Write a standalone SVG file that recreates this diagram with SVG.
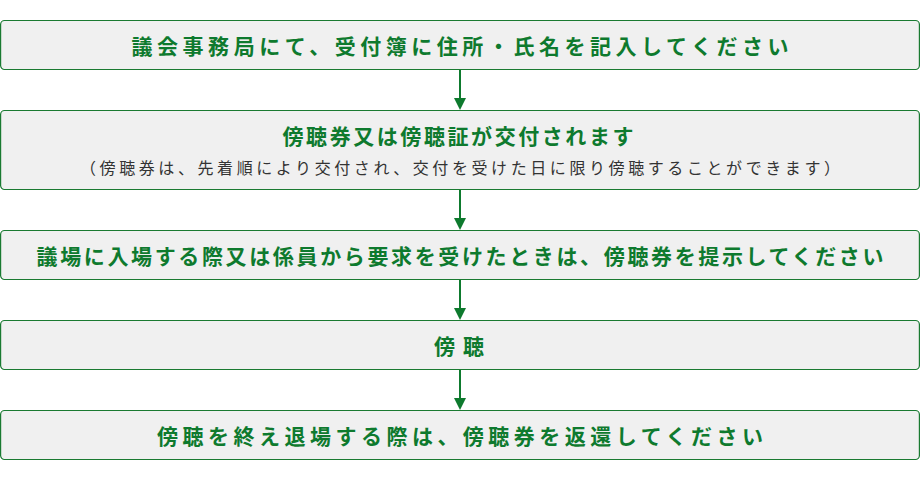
<svg xmlns="http://www.w3.org/2000/svg" width="920" height="480" viewBox="0 0 920 480">
<style>
.box{fill:#f0f0f0;stroke:#1a7a31;stroke-width:1.2}
.t{font-family:"Noto Sans CJK JP","Noto Sans",sans-serif;font-size:21px;font-weight:bold;fill:#0e7a2e;text-anchor:middle;dominant-baseline:central}
.s{font-family:"Noto Sans CJK JP","Noto Sans",sans-serif;font-size:16px;fill:#333;text-anchor:middle;dominant-baseline:central}
.ln{stroke:#0e7a2e;stroke-width:2}
.hd{fill:#0e7a2e}
</style>
<rect width="920" height="480" fill="#fff"/>
<g id="step1">
<rect class="box" x="0.6" y="20.5" width="918.8" height="49" rx="4"/>
<text class="t" x="460" y="44.5" textLength="657" lengthAdjust="spacing">議会事務局にて、受付簿に住所・氏名を記入してください</text>
</g>
<g id="step2">
<rect class="box" x="0.6" y="110.5" width="918.8" height="79" rx="4"/>
<text class="t" x="458" y="135" textLength="351" lengthAdjust="spacing">傍聴券又は傍聴証が交付されます</text>
<text class="s" x="460" y="166.5" textLength="760" lengthAdjust="spacing">（傍聴券は、先着順により交付され、交付を受けた日に限り傍聴することができます）</text>
</g>
<g id="step3">
<rect class="box" x="0.6" y="230.5" width="918.8" height="49" rx="4"/>
<text class="t" x="460" y="254.5" textLength="847" lengthAdjust="spacing">議場に入場する際又は係員から要求を受けたときは、傍聴券を提示してください</text>
</g>
<g id="step4">
<rect class="box" x="0.6" y="320.5" width="918.8" height="49" rx="4"/>
<text class="t" x="459" y="344.5" textLength="50" lengthAdjust="spacing">傍聴</text>
</g>
<g id="step5">
<rect class="box" x="0.6" y="410.5" width="918.8" height="49" rx="4"/>
<text class="t" x="460" y="434.5" textLength="606" lengthAdjust="spacing">傍聴を終え退場する際は、傍聴券を返還してください</text>
</g>
<g id="connectors">
<line class="ln" x1="460" y1="70" x2="460" y2="100"/>
<polygon class="hd" points="454,98 466,98 460,110"/>
<line class="ln" x1="460" y1="190" x2="460" y2="220"/>
<polygon class="hd" points="454,218 466,218 460,230"/>
<line class="ln" x1="460" y1="280" x2="460" y2="310"/>
<polygon class="hd" points="454,308 466,308 460,320"/>
<line class="ln" x1="460" y1="370" x2="460" y2="400"/>
<polygon class="hd" points="454,398 466,398 460,410"/>
</g>
</svg>
